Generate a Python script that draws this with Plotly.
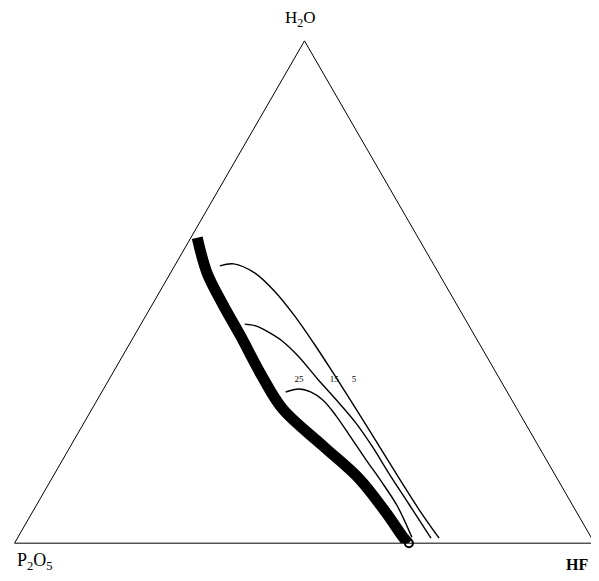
import plotly.graph_objects as go

# Ternary data in percent: H2O (a), HF (c); P2O5 = 100 - H2O - HF
band_h2o = [60.8, 53.8, 47.8, 41.2, 33.3, 26.7, 19.3, 12.7, 6.0, 1.2, 0.0]
band_hf = [1.1, 6.3, 11.9, 18.4, 26.0, 32.9, 43.6, 53.2, 61.1, 66.4, 67.9]

c5_h2o = [55.2, 55.6, 53.8, 50.2, 45.4, 39.8, 33.7, 27.9, 20.1, 12.2, 6.6, 1.0]
c5_hf = [7.8, 10.0, 14.5, 19.7, 25.5, 31.7, 38.2, 44.3, 52.4, 60.6, 66.5, 72.7]

c15_h2o = [43.6, 43.2, 42.0, 40.2, 37.3, 32.7, 28.7, 24.1, 19.3, 13.7, 7.6, 1.0]
c15_hf = [17.9, 20.1, 22.8, 26.1, 30.2, 35.9, 41.0, 46.7, 52.0, 57.8, 64.3, 71.3]

c25_h2o = [30.1, 30.7, 30.1, 28.5, 25.5, 21.3, 16.7, 12.2, 7.4, 1.2]
c25_hf = [31.7, 33.7, 36.0, 38.9, 42.6, 47.2, 52.2, 57.2, 62.3, 67.9]

point_h2o = [0.0]
point_hf = [68.0]

label_text = ["25", "15", "5"]
label_h2o = [32.5, 32.5, 32.5]
label_hf = [32.8, 38.9, 42.3]


def p2o5(a, c):
    return [round(100 - x - y, 2) for x, y in zip(a, c)]


fig = go.Figure()

fig.add_trace(go.Scatterternary(
    a=band_h2o, b=p2o5(band_h2o, band_hf), c=band_hf,
    mode="lines", line=dict(color="black", width=11, shape="spline", smoothing=1.0),
    hoverinfo="skip"))

for a, c in [(c5_h2o, c5_hf), (c15_h2o, c15_hf), (c25_h2o, c25_hf)]:
    fig.add_trace(go.Scatterternary(
        a=a, b=p2o5(a, c), c=c, mode="lines",
        line=dict(color="black", width=1.4, shape="spline"), hoverinfo="skip"))

fig.add_trace(go.Scatterternary(
    a=point_h2o, b=p2o5(point_h2o, point_hf), c=point_hf, mode="markers",
    marker=dict(size=8, color="rgba(255,255,255,0)", line=dict(color="black", width=2)),
    hoverinfo="skip", cliponaxis=False))

fig.add_trace(go.Scatterternary(
    a=label_h2o, b=p2o5(label_h2o, label_hf), c=label_hf, mode="text",
    text=label_text, textfont=dict(family="Liberation Serif", size=9, color="black"),
    hoverinfo="skip"))

axis_style = dict(showgrid=False, showticklabels=False, ticks="", linecolor="black",
                  linewidth=1, title=dict(text=""), showline=True)

fig.update_layout(
    width=591, height=565,
    margin=dict(l=0, r=0, t=0, b=0),
    paper_bgcolor="white",
    showlegend=False,
    ternary=dict(
        sum=100,
        bgcolor="white",
        domain=dict(x=[0.0110, 0.9924], y=[0.0473, 0.9473]),
        aaxis=axis_style, baxis=axis_style, caxis=axis_style,
    ),
    annotations=[
        dict(text="H<sub>2</sub>O", x=0.4941, y=0.9805, xref="paper", yref="paper",
             xanchor="center", yanchor="middle", showarrow=False,
             font=dict(family="Liberation Serif", size=17, color="black")),
        dict(text="P<sub>2</sub>O<sub>5</sub>", x=0.0457, y=0.0195, xref="paper", yref="paper",
             xanchor="center", yanchor="middle", showarrow=False,
             font=dict(family="Liberation Serif", size=18, color="black")),
        dict(text="<b>HF</b>", x=0.9628, y=0.0159, xref="paper", yref="paper",
             xanchor="center", yanchor="middle", showarrow=False,
             font=dict(family="Liberation Serif", size=16, color="black")),
    ],
)

fig.write_html("out.html")
